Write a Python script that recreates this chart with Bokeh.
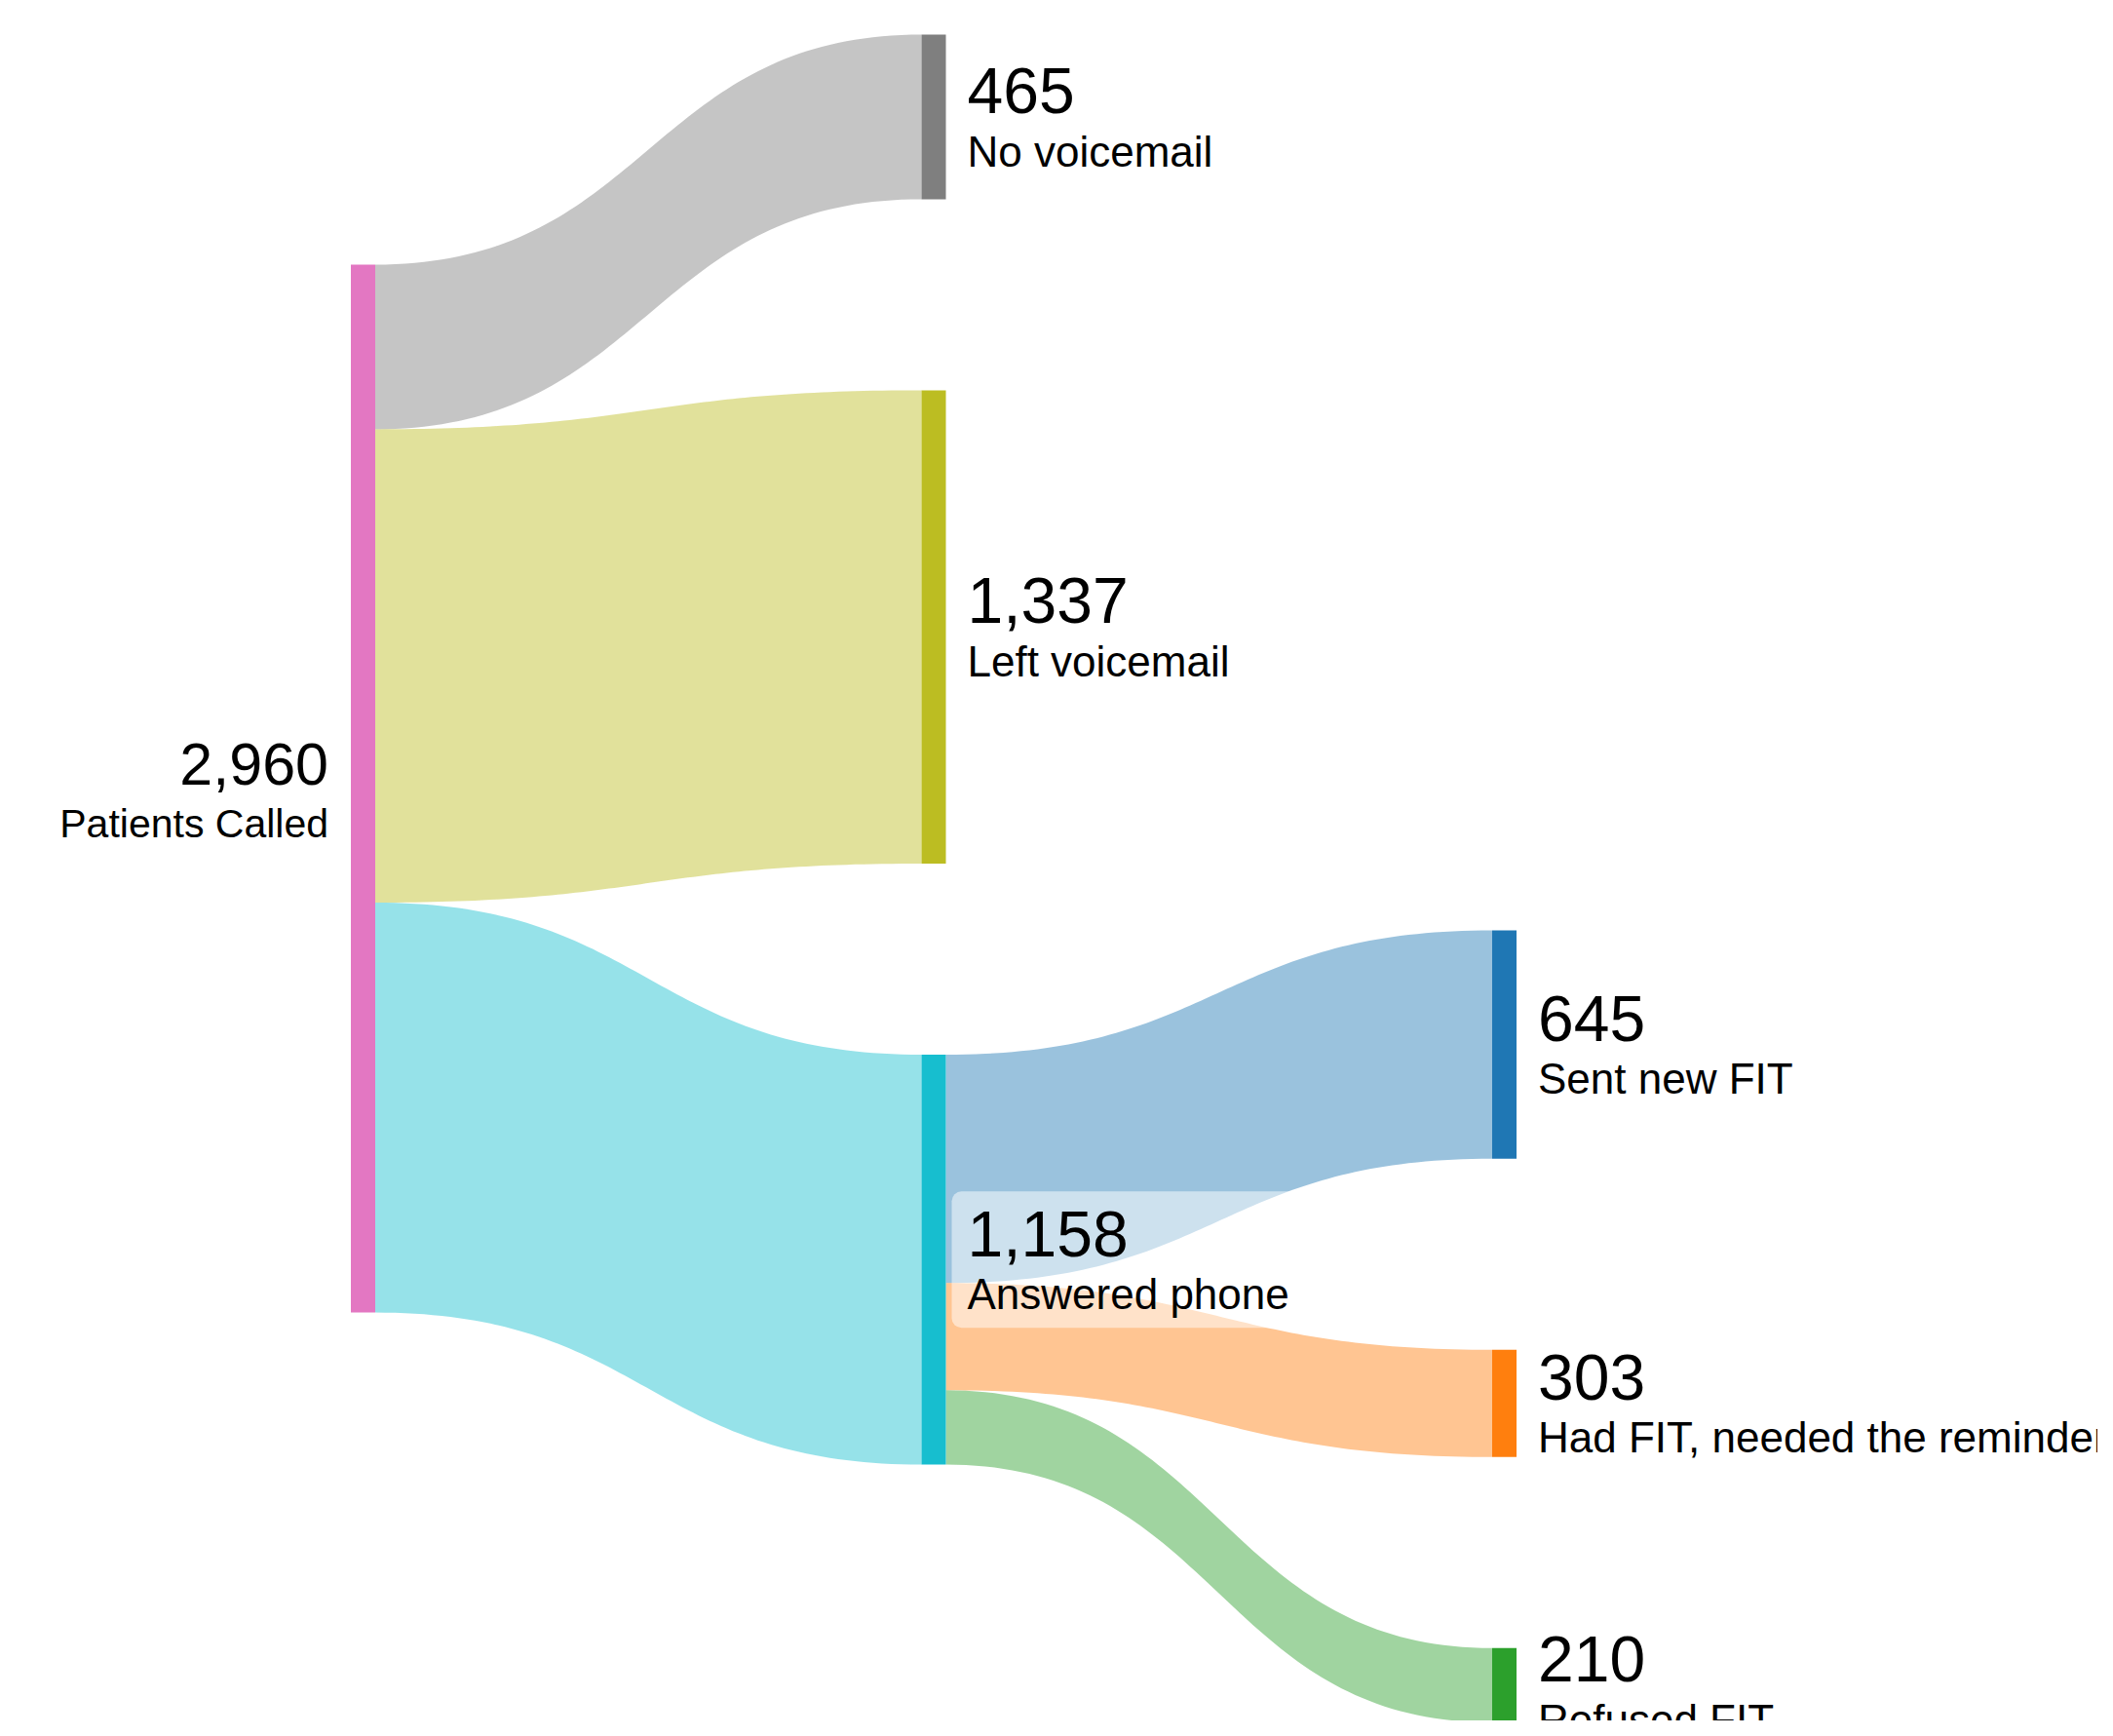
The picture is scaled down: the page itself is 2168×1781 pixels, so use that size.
import numpy as np
from bokeh.plotting import figure
from bokeh.models import Range1d
from bokeh.core.properties import value
from bokeh.embed import file_html
from bokeh.resources import INLINE

# ---------------- data ----------------
node_names = ["Patients Called", "No voicemail", "Left voicemail", "Answered phone",
              "Sent new FIT", "Had FIT, needed the reminder", "Refused FIT"]
node_colors = ["#e377c2", "#7f7f7f", "#bcbd22", "#17becf", "#1f77b4", "#ff7f0e", "#2ca02c"]
link_sources = [0, 0, 0, 3, 3, 3]
link_targets = [1, 2, 3, 4, 5, 6]
link_values = [465, 1337, 1158, 645, 303, 210]
highlight_node = 3   # node whose label has a translucent backdrop

# ---------------- layout settings ----------------
W, H = 2152, 1765
scale = 0.3632          # px per patient
node_pad = 196
node_w = 25
col_x0 = 359.5
col_step = 585.5
col_tops = [271, 35, 954]
link_alpha = 0.45
txt_gap = 22
font = "Liberation Sans"
base_adj = 0.36         # baseline correction (fraction of font size)

n = len(node_names)
inflow = [0] * n
outflow = [0] * n
for s, t, v in zip(link_sources, link_targets, link_values):
    outflow[s] += v
    inflow[t] += v
node_val = [max(a, b) for a, b in zip(inflow, outflow)]
depth = [0] * n
for _ in range(n):
    for s, t in zip(link_sources, link_targets):
        depth[t] = max(depth[t], depth[s] + 1)

node_x0 = [col_x0 + depth[i] * col_step for i in range(n)]
node_x1 = [x + node_w for x in node_x0]
node_y0 = [0.0] * n
node_y1 = [0.0] * n
cursor = {}
for i in range(n):
    d = depth[i]
    y = cursor.get(d, col_tops[d])
    node_y0[i] = y
    node_y1[i] = y + node_val[i] * scale
    cursor[d] = node_y1[i] + node_pad

src_off = [node_y0[i] for i in range(n)]
tgt_off = [node_y0[i] for i in range(n)]


def hex_rgba(h, a):
    h = h.lstrip("#")
    r, g, b = int(h[0:2], 16), int(h[2:4], 16), int(h[4:6], 16)
    return (r, g, b, a)


xs, ys, lcolors = [], [], []
tt = np.linspace(0, 1, 80)
for s, t, v in zip(link_sources, link_targets, link_values):
    h = v * scale
    sy0 = src_off[s]; sy1 = sy0 + h; src_off[s] = sy1
    ty0 = tgt_off[t]; ty1 = ty0 + h; tgt_off[t] = ty1
    x0 = node_x1[s]; x1 = node_x0[t]; xm = (x0 + x1) / 2
    bx = (1 - tt) ** 3 * x0 + 3 * (1 - tt) ** 2 * tt * xm + 3 * (1 - tt) * tt ** 2 * xm + tt ** 3 * x1
    by_top = (1 - tt) ** 3 * sy0 + 3 * (1 - tt) ** 2 * tt * sy0 + 3 * (1 - tt) * tt ** 2 * ty0 + tt ** 3 * ty0
    by_bot = (1 - tt) ** 3 * sy1 + 3 * (1 - tt) ** 2 * tt * sy1 + 3 * (1 - tt) * tt ** 2 * ty1 + tt ** 3 * ty1
    xs.append(list(bx) + list(bx[::-1]))
    ys.append(list(by_top) + list(by_bot[::-1]))
    lcolors.append(hex_rgba(node_colors[t], link_alpha))

p = figure(width=W, height=H, output_backend="svg", toolbar_location=None,
           x_range=Range1d(0, W), y_range=Range1d(H, 0),
           min_border=0, outline_line_color=None, background_fill_color="white")
p.axis.visible = False
p.grid.visible = False

p.patches(xs=xs, ys=ys, fill_color=lcolors, line_color=None)

p.quad(left=node_x0, right=node_x1, top=node_y0, bottom=node_y1,
       fill_color=node_colors, line_color=None)

helv = {' ': 278, ',': 278, 'A': 667, 'F': 611, 'I': 278, 'T': 611, 'S': 667, 'H': 722, 'L': 556,
        'N': 722, 'P': 667, 'C': 722, 'R': 722}
for ch in "abcdeghnopqu":
    helv[ch] = 556
for ch in "ijl":
    helv[ch] = 222
helv.update({'f': 278, 't': 278, 'r': 333, 's': 500, 'v': 500, 'w': 722, 'm': 833, 'c': 500, 'k': 500, 'y': 500})
for ch in "0123456789":
    helv[ch] = 556


def twidth(s, size):
    return sum(helv.get(c, 556) for c in s) / 1000 * size


val_x, val_y, val_t, val_s, val_a = [], [], [], [], []
lab_x, lab_y, lab_t, lab_s, lab_a = [], [], [], [], []
for i in range(n):
    cy = (node_y0[i] + node_y1[i]) / 2
    if depth[i] == 0:
        x = node_x0[i] - txt_gap - 1; align = "right"; vs, ls = 61, 41
    else:
        x = node_x1[i] + txt_gap; align = "left"; vs, ls = 66, 44
    val_x.append(x); val_y.append(cy - 3 - base_adj * vs); val_t.append(f"{node_val[i]:,}")
    val_s.append(f"{vs}px"); val_a.append(align)
    lab_x.append(x); lab_y.append(cy + 51 - base_adj * ls); lab_t.append(node_names[i])
    lab_s.append(f"{ls}px"); lab_a.append(align)
    if i == highlight_node:
        bw = max(twidth(node_names[i], ls), twidth(f"{node_val[i]:,}", vs))
        p.quad(left=[x - 16], right=[x + bw + 14], top=[cy - 70], bottom=[cy + 70],
               fill_color="white", fill_alpha=0.5, line_color=None, border_radius=10)

p.text(x=val_x, y=val_y, text=val_t, text_font_size=val_s, text_align=val_a,
       text_baseline="alphabetic", text_font=value(font), text_color="black")
p.text(x=lab_x, y=lab_y, text=lab_t, text_font_size=lab_s, text_align=lab_a,
       text_baseline="alphabetic", text_font=value(font), text_color="black")

open("out.html", "w").write(file_html(p, INLINE))
